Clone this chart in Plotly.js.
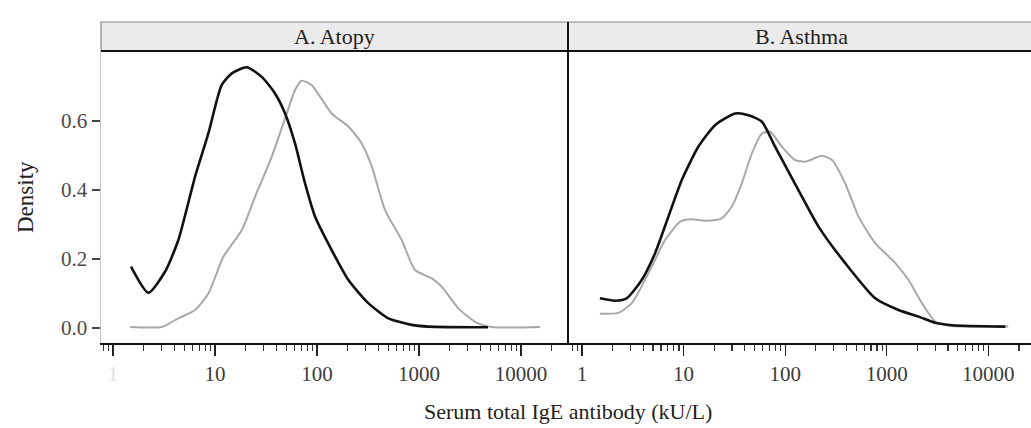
<!DOCTYPE html>
<html>
<head>
<meta charset="utf-8">
<script src="https://cdn.plot.ly/plotly-3.0.1.min.js"></script>
<style>html,body{margin:0;padding:0;background:#fff;}#chart{width:1031px;height:428px;}</style>
</head>
<body>
<div id="chart"></div>
<script>
// Panel titles
const panels = ["A. Atopy", "B. Asthma"];
// Axis ticks
const xTickVals = [1, 10, 100, 1000, 10000];
const xTickText = ["1", "10", "100", "1000", "10000"];
const yTickVals = [0, 0.2, 0.4, 0.6];
const yTickText = ["0.0", "0.2", "0.4", "0.6"];

// A. Atopy - black curve
const atopyBlackX = [1.5, 2.22, 3.23, 4.37, 6.37, 8.6, 11.6, 14.6, 20.5, 28.7, 38.7, 48.6, 60.8, 76.3, 95.5, 139, 203, 318, 500, 848, 1232, 4745];
const atopyBlackY = [0.178, 0.102, 0.163, 0.255, 0.439, 0.564, 0.704, 0.738, 0.756, 0.728, 0.680, 0.622, 0.535, 0.419, 0.323, 0.226, 0.139, 0.072, 0.028, 0.009, 0.004, 0.002];
// A. Atopy - grey curve
const atopyGreyX = [1.47, 3.0, 4.37, 6.37, 8.6, 12.1, 18.3, 24.7, 36, 50.5, 60.8, 70.8, 88.7, 139, 203, 274, 344, 464, 676, 914, 1333, 1667, 2431, 3540, 5160, 15350];
const atopyGreyY = [0.003, 0.003, 0.028, 0.052, 0.100, 0.207, 0.284, 0.381, 0.497, 0.622, 0.690, 0.717, 0.704, 0.622, 0.584, 0.535, 0.468, 0.342, 0.255, 0.168, 0.144, 0.120, 0.057, 0.018, 0.003, 0.003];
// B. Asthma - black curve
const asthmaBlackX = [1.5, 2.11, 2.75, 3.87, 5.24, 7.09, 9.6, 14.0, 20.4, 32.2, 43.5, 59, 79.5, 135, 213, 390, 770, 1306, 2056, 3007, 4390, 14700];
const asthmaBlackY = [0.086, 0.079, 0.086, 0.139, 0.217, 0.323, 0.429, 0.526, 0.588, 0.622, 0.617, 0.598, 0.526, 0.400, 0.294, 0.188, 0.086, 0.052, 0.033, 0.015, 0.008, 0.004];
// B. Asthma - grey curve
const asthmaGreyX = [1.5, 2.28, 3.09, 4.86, 6.57, 9.24, 12.0, 16.3, 23.8, 29.8, 37.4, 47, 59, 71.1, 92.7, 125, 157, 230, 289, 390, 527, 770, 1213, 1640, 2222, 3007, 4390, 15700];
const asthmaGreyY = [0.041, 0.044, 0.072, 0.178, 0.255, 0.308, 0.315, 0.311, 0.318, 0.352, 0.419, 0.506, 0.564, 0.569, 0.526, 0.487, 0.482, 0.499, 0.487, 0.419, 0.323, 0.246, 0.188, 0.139, 0.072, 0.018, 0.006, 0.004];

const minorVals = [];
for (let e = -1; e <= 4; e++) for (let m = 2; m <= 9; m++) minorVals.push(m * Math.pow(10, e));

const serif = "Liberation Serif, Times New Roman, serif";
const blackLine = {color: "#111", width: 2.6, shape: "spline", smoothing: 0.6};
const greyLine = {color: "#a8a8a8", width: 2, shape: "spline", smoothing: 0.6};

const traces = [
  {x: atopyGreyX, y: atopyGreyY, xaxis: "x", yaxis: "y", mode: "lines", line: greyLine},
  {x: atopyBlackX, y: atopyBlackY, xaxis: "x", yaxis: "y", mode: "lines", line: blackLine},
  {x: asthmaGreyX, y: asthmaGreyY, xaxis: "x2", yaxis: "y", mode: "lines", line: greyLine},
  {x: asthmaBlackX, y: asthmaBlackY, xaxis: "x2", yaxis: "y", mode: "lines", line: blackLine}
];

const split = 467 / 930;
function xAxis(domain, range, faintOne) {
  return {
    type: "log", domain: domain, range: range, anchor: "y",
    tickmode: "array", tickvals: xTickVals,
    ticktext: xTickText.map((t, i) => (i === 0 && faintOne) ? '<span style="color:#e4e4e4">' + t + '</span>' : t),
    ticks: "outside", ticklen: 11, tickwidth: 1.2, tickcolor: "#222",
    minor: {tickmode: "array", tickvals: minorVals, ticks: "outside", ticklen: 6, tickwidth: 1.2, tickcolor: "#333"},
    showline: true, linecolor: "#111", linewidth: 2,
    showgrid: false, zeroline: false,
    tickfont: {family: serif, size: 21, color: "#3a3a3a"},
    fixedrange: true
  };
}

const layout = {
  width: 1031, height: 428,
  margin: {l: 101, r: 0, t: 51, b: 85},
  paper_bgcolor: "#fff", plot_bgcolor: "#fff",
  showlegend: false,
  xaxis: xAxis([0, split], [-0.118, 4.46], true),
  xaxis2: xAxis([split, 1], [-0.138, 4.42], false),
  yaxis: {
    range: [-0.0435, 0.803], tickmode: "array", tickvals: yTickVals, ticktext: yTickText,
    ticks: "outside", ticklen: 8, tickwidth: 1.2, tickcolor: "#444",
    showline: true, linecolor: "#c8c8c8", linewidth: 1.5,
    showgrid: false, zeroline: false,
    tickfont: {family: serif, size: 21, color: "#4a4a4a"}
  },
  shapes: [
    {type: "rect", xref: "paper", yref: "paper", x0: 0, x1: 1.01, y0: 1, y1: 1.0993, fillcolor: "#ebebeb", line: {color: "#888", width: 1.2}, layer: "below"},
    {type: "line", xref: "paper", yref: "paper", x0: 0, x1: 1.01, y0: 1, y1: 1, line: {color: "#111", width: 2}},
    {type: "line", xref: "paper", yref: "paper", x0: split, x1: split, y0: 0, y1: 1.0993, line: {color: "#111", width: 2}}
  ],
  annotations: [
    {text: panels[0], xref: "paper", yref: "paper", x: split / 2, y: 1.05, xanchor: "center", yanchor: "middle", showarrow: false, font: {family: serif, size: 22, color: "#222"}},
    {text: panels[1], xref: "paper", yref: "paper", x: split + (1.005 - split) / 2, y: 1.05, xanchor: "center", yanchor: "middle", showarrow: false, font: {family: serif, size: 22, color: "#222"}},
    {text: "Serum total IgE antibody (kU/L)", xref: "paper", yref: "paper", x: split, y: -0.236, xanchor: "center", yanchor: "middle", showarrow: false, font: {family: serif, size: 22, color: "#222"}},
    {text: "Density", xref: "paper", yref: "paper", x: -0.0817, y: 0.5, xanchor: "center", yanchor: "middle", textangle: -90, showarrow: false, font: {family: serif, size: 23, color: "#222"}}
  ]
};

Plotly.newPlot("chart", traces, layout, {displayModeBar: false, staticPlot: true});
</script>
</body>
</html>
